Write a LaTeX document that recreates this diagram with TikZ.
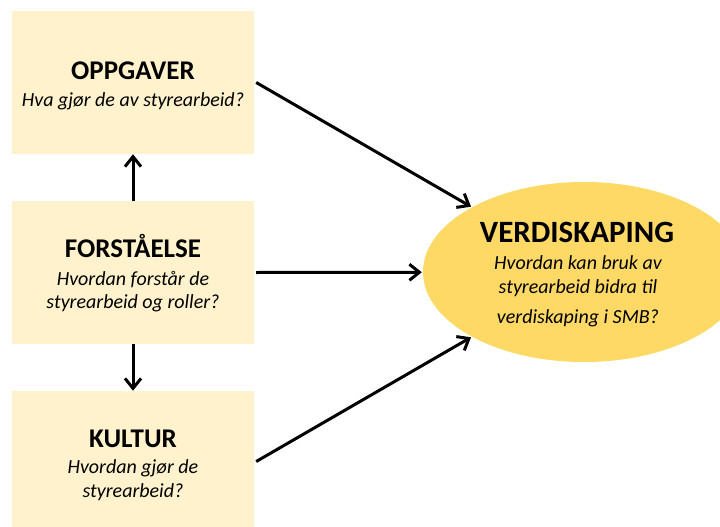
\documentclass[tikz,border=0pt]{standalone}
\usepackage{fontspec}
\setmainfont{Carlito}
\usetikzlibrary{arrows.meta,shapes.geometric}
\definecolor{boxfill}{HTML}{FFF2CC}
\definecolor{ellfill}{HTML}{FFD966}
\tikzset{
  box/.style={rectangle, fill=boxfill, draw=none, minimum width=242pt, inner sep=0pt},
  ttl/.style={anchor=base, inner sep=0pt, font=\fontsize{27}{31}\selectfont\bfseries},
  sub/.style={anchor=base, inner sep=0pt, font=\fontsize{20}{24}\selectfont\itshape},
  bigttl/.style={anchor=base, inner sep=0pt, font=\fontsize{31}{35}\selectfont\bfseries},
  esub/.style={anchor=base, inner sep=0pt, font=\fontsize{20}{24}\selectfont\itshape},
  conn/.style={line width=3pt, -{Straight Barb[length=10pt,width=16pt,line width=3pt]}},
}
\begin{document}
\begin{tikzpicture}[x=1pt,y=-1pt]
\useasboundingbox (0,0) rectangle (720,527);
\clip (0,0) rectangle (720,527);
% boxes
\node[box, minimum height=143pt] (top) at (133,82.5) {};
\node[box, minimum height=143pt] (mid) at (133,272.5) {};
\node[box, minimum height=137pt] (bot) at (133,459.5) {};
\node[ellipse, fill=ellfill, draw=none, minimum width=322pt, minimum height=180pt, inner sep=0pt] (ell) at (584,272) {};
% texts
\node[ttl] (topT) at (133,80) {OPPGAVER};
\node[sub] (topS) at (133,106) {Hva gjør de av styrearbeid?};
\node[ttl] (midT) at (133,257) {FORSTÅELSE};
\node[sub] (midS1) at (133,285) {Hvordan forstår de};
\node[sub] (midS2) at (133,308) {styrearbeid og roller?};
\node[ttl] (botT) at (133,447) {KULTUR};
\node[sub] (botS1) at (133,473) {Hvordan gjør de};
\node[sub] (botS2) at (133,497) {styrearbeid?};
\node[bigttl] (ellT) at (577,242) {VERDISKAPING};
\node[esub] (ellS1) at (578,269) {Hvordan kan bruk av};
\node[esub] (ellS2) at (578,293) {styrearbeid bidra til};
\node[esub] (ellS3) at (578,323) {verdiskaping i SMB?};
% connectors
\draw[conn] (mid.north) -- (top.south);
\draw[conn] (mid.south) -- (bot.north);
\draw[conn, shorten >=1pt] ([xshift=2pt]top.east) -- (ell);
\draw[conn, shorten >=1pt] ([xshift=2pt]mid.east) -- (ell);
\draw[conn, shorten >=1pt] ([xshift=2pt,yshift=-2pt]bot.east) -- (ell);
\end{tikzpicture}
\end{document}
